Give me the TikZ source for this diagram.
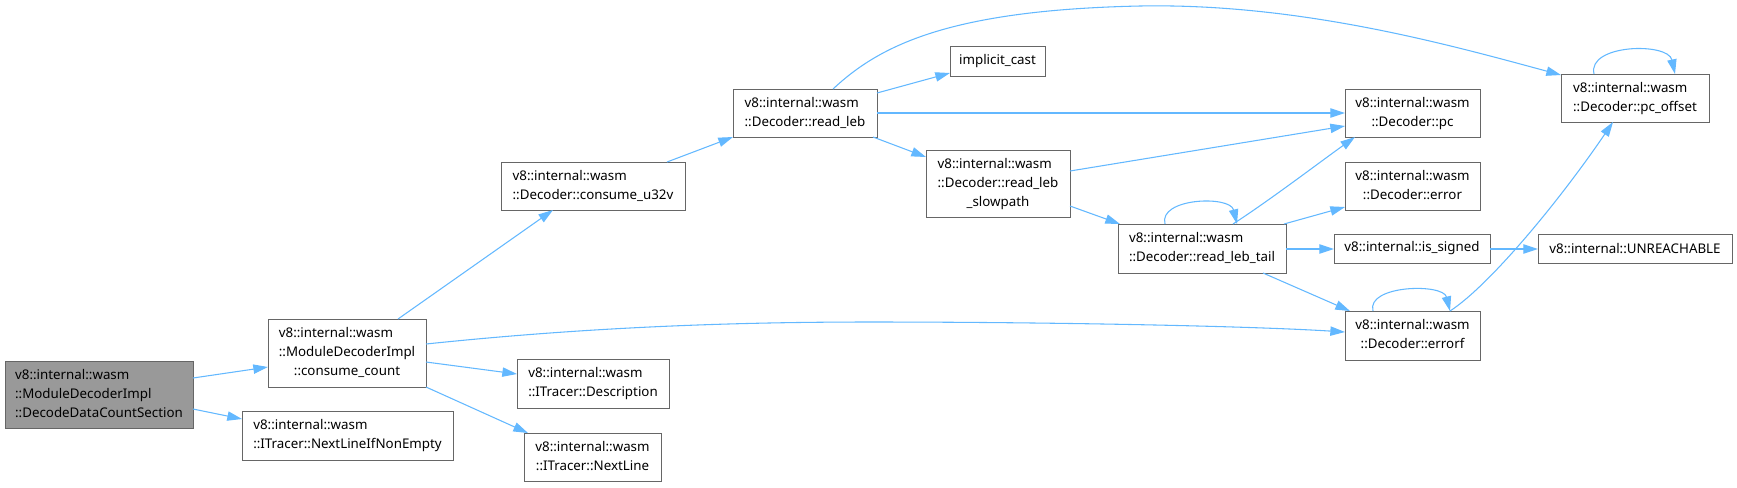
\documentclass[tikz,border=0pt]{standalone}
\usepackage{fontspec}
\setmainfont{Noto Sans}
\usetikzlibrary{arrows.meta,calc}
\definecolor{edgeblue}{HTML}{63B8FF}
\definecolor{boxgray}{HTML}{666666}
\definecolor{rootfill}{HTML}{999999}
\newcommand{\onel}[1]{#1}
\newcommand{\twol}[2]{\begin{tabular}{@{}l@{}}#1\\\multicolumn{1}{@{}c@{}}{#2}\end{tabular}}
\newcommand{\threel}[3]{\begin{tabular}{@{}l@{}}#1\\#2\\\multicolumn{1}{@{}c@{}}{#3}\end{tabular}}
\begin{document}
\begin{tikzpicture}[x=0.75pt,y=-0.75pt,
  bx/.style 2 args={draw=boxgray, line width=0.75pt, fill=white, anchor=north west,
    minimum width=#1*0.75pt, minimum height=#2*0.75pt, inner sep=0pt, outer sep=0pt,
    font=\fontsize{10}{14.25}\selectfont, text=black},
  edge/.style={draw=edgeblue, line width=0.8pt, -{Triangle[length=11pt,width=7pt]}}]
\useasboundingbox (0,0) rectangle (1737,487);

% nodes
\node[bx={188}{67}, fill=rootfill] (dec) at (5,361) {\threel{v8::internal::wasm}{::ModuleDecoderImpl}{::DecodeDataCountSection}};
\node[bx={158}{68}] (cc) at (268,319) {\threel{v8::internal::wasm}{::ModuleDecoderImpl}{::consume\_count}};
\node[bx={211}{49}] (nlne) at (242,411) {\twol{v8::internal::wasm}{::ITracer::NextLineIfNonEmpty}};
\node[bx={184}{48}] (u32v) at (501,162) {\twol{v8::internal::wasm}{::Decoder::consume\_u32v}};
\node[bx={152}{49}] (desc) at (517,359) {\twol{v8::internal::wasm}{::ITracer::Description}};
\node[bx={137}{48}] (nl) at (524,433) {\twol{v8::internal::wasm}{::ITracer::NextLine}};
\node[bx={144}{48}] (rl) at (733,89) {\twol{v8::internal::wasm}{::Decoder::read\_leb}};
\node[bx={95}{30}] (ic) at (950,46) {implicit\_cast};
\node[bx={144}{67}] (slow) at (926,150) {\threel{v8::internal::wasm}{::Decoder::read\_leb}{\_slowpath}};
\node[bx={168}{49}] (tail) at (1118,224) {\twol{v8::internal::wasm}{::Decoder::read\_leb\_tail}};
\node[bx={135}{48}] (pc) at (1345,89) {\twol{v8::internal::wasm}{::Decoder::pc}};
\node[bx={135}{48}] (err) at (1345,162) {\twol{v8::internal::wasm}{::Decoder::error}};
\node[bx={135}{49}] (errf) at (1345,311) {\twol{v8::internal::wasm}{::Decoder::errorf}};
\node[bx={156}{29}] (sig) at (1334,234) {v8::internal::is\_signed};
\node[bx={194}{29}] (unr) at (1538,234) {v8::internal::UNREACHABLE};
\node[bx={148}{48}] (pco) at (1561,74) {\twol{v8::internal::wasm}{::Decoder::pc\_offset}};

% edges
\draw[edge] ($(dec.north west)+(188,17)$) -- ($(cc.north west)+(0,48)$);
\draw[edge] ($(dec.north west)+(188,48)$) -- ($(nlne.north west)+(0,8)$);
\draw[edge] ($(cc.north west)+(130,0)$) -- ($(u32v.north west)+(52,48)$);
\draw[edge] ($(cc.north west)+(158,25)$) .. controls (560,330) and (700,322) .. (870,322)
  .. controls (1050,322) and (1250,326) .. ($(errf.north west)+(0,21)$);
\draw[edge] ($(cc.north west)+(158,43)$) -- ($(desc.north west)+(0,15)$);
\draw[edge] ($(cc.north west)+(158,68)$) -- ($(nl.north west)+(4,0)$);
\draw[edge] ($(u32v.north west)+(166,0)$) -- ($(rl.north west)+(0,48)$);
\draw[edge] ($(rl.north west)+(144,4)$) -- ($(ic.north west)+(0,27)$);
\draw[edge] ($(rl.north west)+(144,24)$) -- ($(pc.north west)+(0,24)$);
\draw[edge] ($(rl.north west)+(140,48)$) -- ($(slow.north west)+(0,7)$);
\draw[edge] ($(rl.north west)+(100,0)$) .. controls (880,45) and (950,10) .. (1140,6)
  .. controls (1300,3) and (1450,45) .. ($(pco.north west)+(0,1)$);
\draw[edge] ($(slow.north west)+(144,21)$) -- ($(pc.north west)+(0,37)$);
\draw[edge] ($(slow.north west)+(144,56)$) -- ($(tail.north west)+(2,0)$);
\draw[edge] ($(tail.north west)+(47,0)$) .. controls ($(tail.north west)+(40,-26)$) and ($(tail.north west)+(112,-29)$) .. ($(tail.north west)+(119,0)$);
\draw[edge] ($(tail.north west)+(115,0)$) .. controls (1270,200) and (1320,162) .. ($(pc.north west)+(10,48)$);
\draw[edge] ($(tail.north west)+(166,0)$) -- ($(err.north west)+(0,45)$);
\draw[edge] ($(tail.north west)+(168,25)$) -- ($(sig.north west)+(0,15)$);
\draw[edge] ($(tail.north west)+(145,49)$) -- ($(errf.north west)+(5,0)$);
\draw[edge] ($(sig.north west)+(156,15)$) -- ($(unr.north west)+(0,15)$);
\draw[edge] ($(errf.north west)+(28,0)$) .. controls ($(errf.north west)+(21,-26)$) and ($(errf.north west)+(98,-28)$) .. ($(errf.north west)+(105,0)$);
\draw[edge] ($(errf.north west)+(105,0)$) .. controls (1490,285) and (1560,200) .. ($(pco.north west)+(52,48)$);
\draw[edge] ($(pco.north west)+(33,0)$) .. controls ($(pco.north west)+(26,-30)$) and ($(pco.north west)+(107,-32)$) .. ($(pco.north west)+(114,0)$);
\end{tikzpicture}
\end{document}
